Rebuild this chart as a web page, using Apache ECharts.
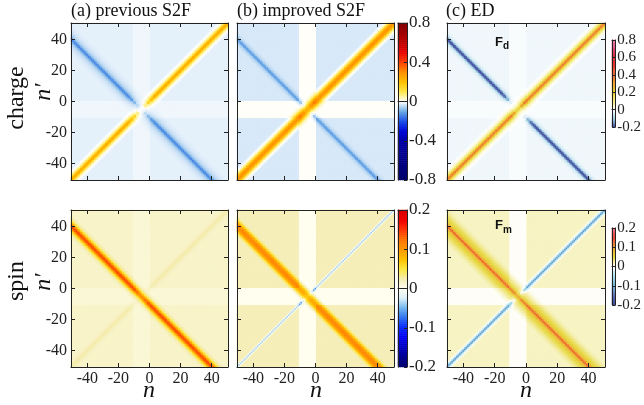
<!DOCTYPE html>
<html>
<head>
<meta charset="utf-8">
<script src="https://cdn.jsdelivr.net/npm/echarts@6/dist/echarts.min.js"></script>
<style>
  html, body { margin: 0; padding: 0; background: #fff; }
  #main { width: 644px; height: 405px; }
</style>
</head>
<body>
<div id="main"></div>
<script>
// lattice sites and ticks
const nAxis = [];
for (let n = -50; n <= 50; n++) nAxis.push(String(n));
const tickVals = [-40, -20, 0, 20, 40];
const titles = ['(a) previous S2F', '(b) improved S2F', '(c) ED'];
const rowNames = ['charge', 'spin'];

// each panel: levels = [background, cross band n or n' in -10..0]
// diag = profile across n'=n, anti = profile across n'=-n-10 (index = cells off the line)
// *Env = strength along the line, index = 2-site steps away from the crossing at (-5,-5)
const aChargeLevels = [-0.018, -0.011];
const aChargeDiag = [0.28, 0.22, 0.14, 0.08, 0.04, 0.018, 0.008];
const aChargeDiagEnv = [0.05, 0.3, 0.6, 0.85, 1];
const aChargeAnti = [-0.13, -0.09, -0.055, -0.035, -0.024, -0.016, -0.011, -0.007, -0.004, -0.002];
const aChargeAntiEnv = [0.05, 0.3, 0.6, 0.85, 1];

const bChargeLevels = [-0.027, 0.004];
const bChargeDiag = [0.33, 0.3, 0.25, 0.17, 0.1, 0.055, 0.028, 0.012];
const bChargeDiagEnv = [0.75, 0.9, 1];
const bChargeAnti = [-0.1, -0.06, -0.03, -0.015, -0.007, -0.003];
const bChargeAntiEnv = [0.1, 0.4, 0.8, 1];

const cChargeLevels = [-0.016, -0.006];
const cChargeDiag = [0.42, 0.3, 0.2, 0.13, 0.08, 0.045, 0.025, 0.012, 0.005];
const cChargeDiagEnv = [0.55, 0.8, 1];
const cChargeAnti = [-0.19, -0.15, -0.07, -0.03, -0.015, -0.008];
const cChargeAntiEnv = [0, 0, 0.15, 0.6, 0.9, 1];

const aSpinLevels = [0.016, 0.011];
const aSpinDiag = [0.012, 0.008, 0.005, 0.002];
const aSpinDiagEnv = [0, 0.2, 0.5, 0.8, 1];
const aSpinAnti = [0.13, 0.11, 0.08, 0.05, 0.03, 0.016, 0.008, 0.004];
const aSpinAntiEnv = [0.8, 0.9, 1];

const bSpinLevels = [0.022, 0.001];
const bSpinDiag = [-0.06, -0.02];
const bSpinDiagEnv = [0.2, 0.6, 1];
const bSpinAnti = [0.09, 0.085, 0.075, 0.06, 0.038, 0.018, 0.007];
const bSpinAntiEnv = [0.9, 1];

const cSpinLevels = [0.016, 0.002];
const cSpinDiag = [-0.14, -0.07, -0.025, -0.008];
const cSpinDiagEnv = [0, 0.2, 0.6, 1];
const cSpinAnti = [0.12, 0.085, 0.058, 0.045, 0.037, 0.031, 0.026, 0.021, 0.015, 0.01, 0.006, 0.003];
const cSpinAntiEnv = [0.8, 1];

// colour scales (evenly spaced from min to max)
const chargeBColors = ['#00006a', '#000078', '#000086', '#000094', '#0000a8', '#0008d8', '#1e50e8', '#6aaae4', '#ffffff',
  '#ffe84a', '#ffc000', '#ff9000', '#ff4000', '#e80000', '#c00000', '#a00000', '#800000'];
const spinBColors = ['#00006e', '#000090', '#0000c0', '#0000f0', '#0a28ff', '#3070f0', '#70b4ee', '#d8eef8', '#fffff2',
  '#f4ecb0', '#ffe840', '#ffc000', '#ff9800', '#ff7000', '#ff3000', '#f00000', '#d80000'];
const chargeCColors = ['#3f4a9e', '#9fd0e4', '#ffffff', '#f4ec80', '#e8d430', '#f0a030', '#f07030', '#ec3a2c', '#e02838', '#e04878', '#f080b0'];
const spinCColors = ['#3e4a9a', '#5868b4', '#70b8dc', '#a8e0ec', '#ffffff', '#e6d840', '#f0a030', '#ec3c30', '#f07898'];

const serif = 'Liberation Serif';

function prof(arr, k) { return k < arr.length ? arr[k] : 0; }
function env(arr, k) { return k < arr.length ? arr[k] : arr[arr.length - 1]; }

function buildCells(levels, diag, diagEnv, anti, antiEnv) {
  const cells = [];
  for (let i = 0; i < nAxis.length; i++) {
    for (let j = 0; j < nAxis.length; j++) {
      const n = Number(nAxis[i]), m = Number(nAxis[j]);
      const cross = Math.abs(n + 5) <= 5 || Math.abs(m + 5) <= 5;
      const dd = Math.abs(m - n), da = Math.abs(n + m + 10);
      let v = cross ? levels[1] : levels[0];
      v += prof(diag, dd) * env(diagEnv, Math.floor(da / 4));
      v += prof(anti, da) * env(antiEnv, Math.floor(dd / 4));
      cells.push([i, j, v]);
    }
  }
  return cells;
}

const isTick = (idx, val) => tickVals.indexOf(Number(val)) >= 0;
const grids = [], xAxes = [], yAxes = [], series = [];
const axLine = { show: true, lineStyle: { color: '#222', width: 1 } };

function panel(left, top, w, xLab, yLab, cells) {
  const gi = grids.length;
  grids.push({ left: left, top: top, width: w, height: 157 });
  const tick = { show: true, inside: true, length: 4, alignWithLabel: true, interval: isTick, lineStyle: { color: '#222' } };
  const lab = (show) => ({ show: show, interval: isTick, fontSize: 16, fontFamily: serif, color: '#222', margin: 4 });
  const xi = xAxes.length, yi = yAxes.length;
  ['bottom', 'top'].forEach((p, k) => xAxes.push({ type: 'category', gridIndex: gi, data: nAxis, position: p,
    axisLine: axLine, axisTick: tick, axisLabel: lab(k === 0 && xLab), splitLine: { show: false }, z: 5 }));
  ['left', 'right'].forEach((p, k) => yAxes.push({ type: 'category', gridIndex: gi, data: nAxis, position: p,
    axisLine: axLine, axisTick: tick, axisLabel: lab(k === 0 && yLab), splitLine: { show: false }, z: 5 }));
  series.push({ type: 'heatmap', xAxisIndex: xi, yAxisIndex: yi, data: cells, progressive: 0, silent: true, emphasis: { disabled: true } });
}

function colorBar(left, top, h, min, max, interval, fs) {
  const gi = grids.length;
  grids.push({ left: left, top: top, width: 9, height: h });
  const steps = [], cells = [];
  for (let i = 0; i < 80; i++) { steps.push(String(i)); cells.push([0, i, min + (i + 0.5) * (max - min) / 80]); }
  const xi = xAxes.length, yi = yAxes.length;
  ['bottom', 'top'].forEach(p => xAxes.push({ type: 'category', gridIndex: gi, data: ['c'], position: p,
    axisLine: axLine, axisTick: { show: false }, axisLabel: { show: false }, z: 5 }));
  yAxes.push({ type: 'category', gridIndex: gi, data: steps, position: 'left', axisLine: axLine,
    axisTick: { show: false }, axisLabel: { show: false }, splitLine: { show: false }, z: 5 });
  yAxes.push({ type: 'value', gridIndex: gi, position: 'right', min: min, max: max, interval: interval,
    axisLine: axLine, axisTick: { show: true, inside: true, length: 3, lineStyle: { color: '#222' } },
    axisLabel: { fontSize: fs, fontFamily: serif, color: '#222', margin: 2, formatter: v => String(Number(v.toFixed(2))) },
    splitLine: { show: false }, z: 5 });
  series.push({ type: 'heatmap', xAxisIndex: xi, yAxisIndex: yi, data: cells, progressive: 0, silent: true, emphasis: { disabled: true } });
}

// series 0..5: panels, 6..9: colour bars
panel(71, 23, 157, false, true, buildCells(aChargeLevels, aChargeDiag, aChargeDiagEnv, aChargeAnti, aChargeAntiEnv));
panel(237, 23, 157, false, false, buildCells(bChargeLevels, bChargeDiag, bChargeDiagEnv, bChargeAnti, bChargeAntiEnv));
panel(447, 23, 158, false, false, buildCells(cChargeLevels, cChargeDiag, cChargeDiagEnv, cChargeAnti, cChargeAntiEnv));
panel(71, 210, 157, true, true, buildCells(aSpinLevels, aSpinDiag, aSpinDiagEnv, aSpinAnti, aSpinAntiEnv));
panel(237, 210, 157, true, false, buildCells(bSpinLevels, bSpinDiag, bSpinDiagEnv, bSpinAnti, bSpinAntiEnv));
panel(447, 210, 158, true, false, buildCells(cSpinLevels, cSpinDiag, cSpinDiagEnv, cSpinAnti, cSpinAntiEnv));
colorBar(398, 23, 157, -0.8, 0.8, 0.4, 17);
colorBar(612, 40, 87, -0.2, 0.8, 0.2, 15);
colorBar(398, 210, 157, -0.2, 0.2, 0.1, 17);
colorBar(612, 228, 77, -0.2, 0.2, 0.1, 15);

const txt = (x, y, text, size, extra) => Object.assign({ type: 'text', x: x, y: y, z: 20, silent: true,
  style: Object.assign({ text: text, fontSize: size, fontFamily: serif, fill: '#111', align: 'left', verticalAlign: 'middle' }, extra || {}) });
const rot = (x, y, text, italic) => ({ type: 'text', x: x, y: y, z: 20, rotation: Math.PI / 2, silent: true,
  style: { text: text, fontSize: 24, fontFamily: serif, fontStyle: italic ? 'italic' : 'normal', fill: '#111', align: 'center', verticalAlign: 'middle' } });

const graphics = [
  txt(71, 11, titles[0], 18), txt(237, 11, titles[1], 18), txt(446, 11, titles[2], 18),
  rot(17, 98, rowNames[0], false), rot(44, 92, 'n\u2032', true),
  rot(17, 281, rowNames[1], false), rot(44, 282, 'n\u2032', true),
  txt(149, 391, 'n', 24, { fontStyle: 'italic', align: 'center' }),
  txt(316, 391, 'n', 24, { fontStyle: 'italic', align: 'center' }),
  txt(526, 391, 'n', 24, { fontStyle: 'italic', align: 'center' }),
  txt(495, 42, 'F', 13, { fontFamily: 'Liberation Sans', fontWeight: 'bold' }),
  txt(503, 46, 'd', 10, { fontFamily: 'Liberation Sans', fontWeight: 'bold' }),
  txt(495, 225, 'F', 13, { fontFamily: 'Liberation Sans', fontWeight: 'bold' }),
  txt(503, 230, 'm', 10, { fontFamily: 'Liberation Sans', fontWeight: 'bold' })
];

const chart = echarts.init(document.getElementById('main'));
chart.setOption({
  animation: false,
  backgroundColor: '#fff',
  grid: grids,
  xAxis: xAxes,
  yAxis: yAxes,
  visualMap: [
    { type: 'continuous', show: false, seriesIndex: [0, 1, 6], dimension: 2, min: -0.8, max: 0.8, inRange: { color: chargeBColors } },
    { type: 'continuous', show: false, seriesIndex: [2, 7], dimension: 2, min: -0.2, max: 0.8, inRange: { color: chargeCColors } },
    { type: 'continuous', show: false, seriesIndex: [3, 4, 8], dimension: 2, min: -0.2, max: 0.2, inRange: { color: spinBColors } },
    { type: 'continuous', show: false, seriesIndex: [5, 9], dimension: 2, min: -0.2, max: 0.2, inRange: { color: spinCColors } }
  ],
  series: series,
  graphic: graphics
});
window.addEventListener('resize', () => chart.resize());
</script>
</body>
</html>
